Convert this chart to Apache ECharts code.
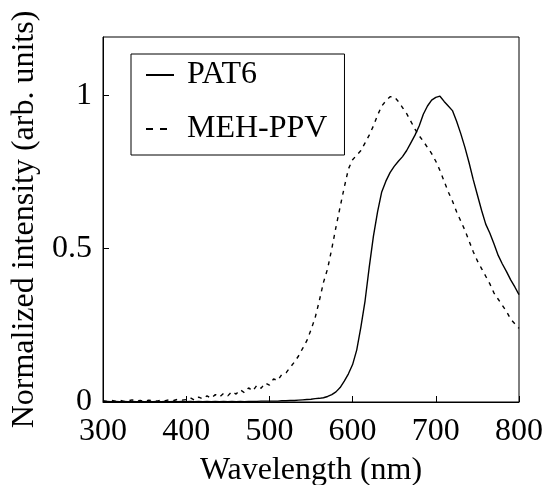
<!DOCTYPE html>
<html>
<head>
<meta charset="utf-8">
<script src="https://cdn.jsdelivr.net/npm/echarts@6/dist/echarts.min.js"></script>
<style>html,body{margin:0;padding:0;background:#fff}#c{width:547px;height:485px}</style>
</head>
<body>
<div id="c"></div>
<script>
// Wavelength (nm), 5 nm steps from 300 to 800
const wavelengths = [];
for (let w = 300; w <= 800; w += 5) wavelengths.push(w);

// PAT6 normalized intensity
const pat6 = [
  0.002,0.002,0.001,0.002,0.001,0.002,0.001,0.002,0.001,0.002, // 300-345
  0.001,0.002,0.001,0.002,0.001,0.002,0.001,0.002,0.001,0.002, // 350-395
  0.001,0.002,0.001,0.002,0.001,0.002,0.001,0.002,0.001,0.002, // 400-445
  0.001,0.002,0.001,0.002,0.001,0.002,0.002,0.002,0.003,0.003, // 450-495
  0.003,0.003,0.003,0.004,0.004,0.005,0.005,0.006,0.007,0.008, // 500-545
  0.009,0.011,0.012,0.014,0.018,0.024,0.033,0.047,0.068,0.092, // 550-595
  0.122,0.17,0.245,0.33,0.44,0.54,0.62,0.685,0.72,0.748,       // 600-645
  0.768,0.785,0.80,0.82,0.845,0.87,0.90,0.938,0.965,0.984,     // 650-695
  0.993,0.997,0.98,0.965,0.95,0.915,0.875,0.83,0.78,0.725,     // 700-745
  0.675,0.625,0.58,0.55,0.515,0.478,0.45,0.425,0.398,0.375,    // 750-795
  0.35                                                          // 800
];

// MEH-PPV normalized intensity
const mehppv = [
  0.004,0.002,0.005,0.003,0.006,0.002,0.004,0.007,0.003,0.005, // 300-345
  0.002,0.006,0.004,0.003,0.007,0.004,0.008,0.005,0.009,0.006, // 350-395
  0.008,0.014,0.006,0.016,0.010,0.020,0.012,0.024,0.016,0.028, // 400-445
  0.020,0.034,0.026,0.040,0.030,0.046,0.036,0.055,0.045,0.062, // 450-495
  0.055,0.075,0.070,0.090,0.095,0.113,0.130,0.150,0.175,0.200, // 500-545
  0.235,0.275,0.33,0.39,0.435,0.50,0.57,0.636,0.70,0.76,       // 550-595
  0.79,0.805,0.82,0.845,0.87,0.90,0.935,0.965,0.982,0.995,     // 600-645
  0.995,0.98,0.96,0.94,0.915,0.89,0.868,0.85,0.83,0.81,        // 650-695
  0.785,0.755,0.72,0.685,0.655,0.62,0.59,0.56,0.525,0.49,      // 700-745
  0.46,0.435,0.41,0.385,0.355,0.335,0.315,0.295,0.27,0.255,    // 750-795
  0.24                                                          // 800
];

const xTicks = [300, 400, 500, 600, 700, 800];
const yTicks = [0, 0.5, 1];
const seriesNames = ['PAT6', 'MEH-PPV'];

const FONT = "'Liberation Serif', 'Times New Roman', serif";
const chart = echarts.init(document.getElementById('c'), null, {renderer: 'canvas'});

const toPairs = arr => wavelengths.map((w, i) => [w, arr[i]]);

chart.setOption({
  animation: false,
  backgroundColor: '#fff',
  grid: {left: 103, right: 28, top: 37, bottom: 83, show: true, borderColor: '#000', borderWidth: 1,
         backgroundColor: 'transparent', containLabel: false, outerBoundsMode: 'none'},
  legend: {
    orient: 'vertical',
    left: 131, top: 54,
    borderColor: '#000', borderWidth: 1,
    padding: [5, 17, 10, 14],
    itemGap: 22,
    itemWidth: 28, itemHeight: 14,
    itemStyle: {color: 'transparent', borderWidth: 0, opacity: 0},
    textStyle: {fontFamily: FONT, fontSize: 32, color: '#000', padding: [0, 0, 0, 8]},
    data: [
      {name: seriesNames[0]},
      {name: seriesNames[1], lineStyle: {type: [7, 7]}}
    ]
  },
  xAxis: {
    type: 'value', min: xTicks[0], max: xTicks[xTicks.length - 1], interval: 100,
    name: 'Wavelength (nm)', nameLocation: 'middle', nameGap: 53,
    nameTextStyle: {fontFamily: FONT, fontSize: 32, color: '#000'},
    axisLine: {show: true, lineStyle: {color: '#000', width: 1}},
    axisTick: {show: true, inside: true, length: 6, lineStyle: {color: '#000'}},
    axisLabel: {fontFamily: FONT, fontSize: 32, color: '#000', margin: 14},
    splitLine: {show: false}
  },
  yAxis: {
    type: 'value', min: 0, max: 1.19, interval: 0.5,
    name: 'Normalized intensity (arb. units)', nameLocation: 'middle', nameGap: 62,
    nameTextStyle: {fontFamily: FONT, fontSize: 32, color: '#000'},
    axisLine: {show: true, lineStyle: {color: '#000', width: 1}},
    axisTick: {show: true, inside: true, length: 6, lineStyle: {color: '#000'}},
    axisLabel: {fontFamily: FONT, fontSize: 32, color: '#000', margin: 11, showMaxLabel: false,
      formatter: v => (yTicks.indexOf(v) >= 0 ? String(v) : '')},
    splitLine: {show: false}
  },
  series: [
    {name: seriesNames[0], type: 'line', data: toPairs(pat6), showSymbol: false, symbol: 'none',
     lineStyle: {color: '#000', width: 1.4, type: 'solid'}, itemStyle: {color: '#000'}},
    {name: seriesNames[1], type: 'line', data: toPairs(mehppv), showSymbol: false, symbol: 'none',
     lineStyle: {color: '#000', width: 1.4, type: [4, 5]}, itemStyle: {color: '#000'}}
  ]
});
</script>
</body>
</html>
